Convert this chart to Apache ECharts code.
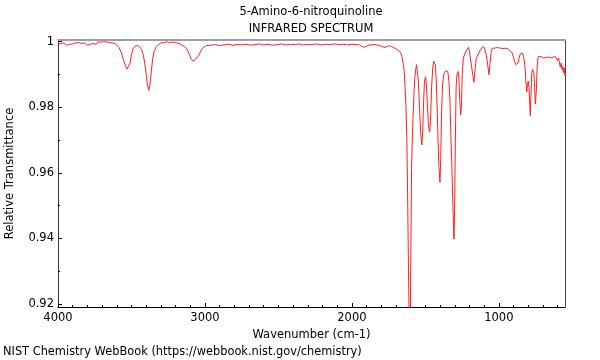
<!DOCTYPE html>
<html>
<head>
<meta charset="utf-8">
<script src="https://cdn.jsdelivr.net/npm/echarts@6/dist/echarts.min.js"></script>
<style>html,body{margin:0;padding:0;background:#fff;}#c{width:600px;height:360px;}</style>
</head>
<body>
<div id="c"></div>
<script>
const titleText = '5-Amino-6-nitroquinoline';
const subtitleText = 'INFRARED SPECTRUM';
const xName = 'Wavenumber (cm-1)';
const yName = 'Relative Transmittance';
const footer = 'NIST Chemistry WebBook (https://webbook.nist.gov/chemistry)';
const xMajorTicks = [4000, 3000, 2000, 1000];
const yMajorTicks = [0.92, 0.94, 0.96, 0.98, 1];
const yMinorTicks = [0.93, 0.95, 0.97, 0.99];
const xRange = [550, 4000];
const yRange = [0.9191, 1.0005];

const wavenumber = [
4000,3990,3980,3970,3960,3950,3940,3930,3920,3910,3900,3890,3880,3870,3860,3850,3840,3830,3820,3810,
3800,3790,3780,3770,3760,3750,3740,3730,3720,3710,3700,3690,3680,3670,3660,3650,3640,3630,3620,3610,
3600,3585,3570,3555,3540,3530,3520,3510,3500,3490,3475,3460,3445,3430,3420,3410,3400,3390,3382,3375,
3365,3355,3345,3330,3315,3300,3280,3260,3240,3220,3200,3185,3170,3155,3140,3120,3105,3095,3085,3078,
3070,3060,3052,3045,3035,3020,3005,2990,2960,2930,2900,2870,2840,2810,2780,2750,2720,2690,2660,2630,
2600,2570,2540,2510,2480,2450,2420,2390,2360,2330,2300,2270,2240,2210,2180,2150,2120,2090,2060,2030,
2000,1970,1950,1935,1920,1905,1890,1870,1850,1830,1810,1790,1775,1760,1745,1730,1715,1700,1685,1670,
1660,1650,1644,1638,1632,1626,1620,1615,1610,1607,1603,1599,1594,1588,1583,1577,1572,1566,1560,1555,
1548,1540,1532,1524,1518,1512,1506,1499,1493,1486,1478,1471,1465,1458,1450,1443,1438,1432,1426,1420,
1414,1408,1401,1396,1390,1383,1375,1365,1355,1348,1340,1333,1327,1320,1314,1308,1305,1301,1296,1291,
1285,1278,1272,1266,1260,1255,1249,1242,1236,1230,1224,1218,1212,1206,1200,1194,1186,1178,1170,1163,
1155,1148,1140,1133,1126,1120,1113,1106,1100,1094,1088,1082,1075,1067,1060,1052,1045,1038,1030,1022,
1015,1008,1000,993,986,979,972,965,958,950,942,934,926,918,910,900,892,885,878,870,
862,855,848,840,832,825,820,815,810,805,800,795,790,786,782,777,772,767,762,757,
752,749,745,740,735,728,720,712,704,696,688,680,672,664,656,648,640,632,624,616,
608,600,594,588,582,576,570,565,560,555,550
];
const transmittance = [
0.9993,0.9988,0.9994,0.9990,0.9996,0.9991,0.9989,0.9995,0.9992,0.9987,0.9993,0.9990,0.9996,0.9992,0.9997,0.9991,0.9994,0.9990,0.9996,0.9993,
0.9989,0.9995,0.9992,0.9998,0.9994,0.9997,0.9992,0.9999,0.9995,0.9998,0.9993,1.0000,0.9996,0.9999,0.9994,0.9997,0.9993,0.9996,0.9992,0.9994,
0.9990,0.9982,0.9968,0.9945,0.9925,0.9916,0.9918,0.9935,0.9960,0.9978,0.9986,0.9988,0.9985,0.9975,0.9960,0.9935,0.9900,0.9865,0.9852,0.9865,
0.9910,0.9950,0.9972,0.9985,0.9991,0.9996,0.9997,1.0000,0.9996,0.9999,0.9997,0.9995,0.9993,0.9989,0.9985,0.9975,0.9960,0.9948,0.9942,0.9940,
0.9945,0.9950,0.9951,0.9955,0.9965,0.9978,0.9985,0.9988,0.9989,0.9991,0.9988,0.9990,0.9992,0.9989,0.9991,0.9990,0.9992,0.9989,0.9991,0.9993,
0.9990,0.9992,0.9989,0.9991,0.9993,0.9990,0.9992,0.9991,0.9993,0.9990,0.9992,0.9991,0.9993,0.9990,0.9992,0.9991,0.9993,0.9991,0.9992,0.9990,
0.9992,0.9991,0.9990,0.9986,0.9983,0.9985,0.9989,0.9990,0.9991,0.9990,0.9988,0.9984,0.9982,0.9986,0.9987,0.9985,0.9982,0.9978,0.9973,0.9968,
0.9955,0.9930,0.9910,0.9860,0.9800,0.9700,0.9500,0.9300,0.9150,0.9100,0.9150,0.9350,0.9610,0.9720,0.9780,0.9850,0.9890,0.9915,0.9930,0.9925,
0.9880,0.9800,0.9720,0.9685,0.9730,0.9820,0.9880,0.9893,0.9870,0.9800,0.9740,0.9724,0.9760,0.9860,0.9920,0.9940,0.9944,0.9930,0.9880,0.9800,
0.9700,0.9620,0.9571,0.9640,0.9780,0.9870,0.9900,0.9910,0.9916,0.9910,0.9880,0.9820,0.9720,0.9620,0.9520,0.9420,0.9398,0.9500,0.9700,0.9860,
0.9900,0.9909,0.9890,0.9820,0.9776,0.9800,0.9900,0.9950,0.9955,0.9965,0.9960,0.9975,0.9978,0.9983,0.9968,0.9950,0.9925,0.9900,0.9876,0.9910,
0.9945,0.9955,0.9962,0.9968,0.9975,0.9971,0.9980,0.9985,0.9988,0.9975,0.9962,0.9950,0.9925,0.9899,0.9935,0.9970,0.9980,0.9983,0.9980,0.9985,
0.9982,0.9986,0.9981,0.9984,0.9980,0.9983,0.9979,0.9982,0.9980,0.9977,0.9979,0.9975,0.9973,0.9970,0.9966,0.9952,0.9938,0.9930,0.9926,0.9935,
0.9950,0.9962,0.9968,0.9965,0.9955,0.9935,0.9910,0.9870,0.9847,0.9870,0.9880,0.9860,0.9810,0.9774,0.9830,0.9900,0.9915,0.9912,0.9905,0.9860,
0.9810,0.9805,0.9850,0.9920,0.9947,0.9955,0.9958,0.9954,0.9957,0.9950,0.9955,0.9952,0.9958,0.9953,0.9956,0.9950,0.9955,0.9952,0.9948,0.9955,
0.9950,0.9942,0.9950,0.9935,0.9922,0.9935,0.9915,0.9925,0.9905,0.9920,0.9895
];

const xMinorTicks = [];
for (let t = 600; t < 4000; t += 100) { if (t % 1000 !== 0) xMinorTicks.push(t); }

const points = wavenumber.map((w, i) => [w, transmittance[i]]);
const FONT = 'DejaVu Sans';
const FS = 11.5;
const chart = echarts.init(document.getElementById('c'), null, {renderer: 'canvas'});
const baseX = {type: 'value', min: xRange[0], max: xRange[1], inverse: true, splitLine: {show: false}};
const baseY = {type: 'value', min: yRange[0], max: yRange[1], splitLine: {show: false}};
chart.setOption({
  animation: false,
  backgroundColor: '#fff',
  title: [
    {text: titleText, left: 311, top: 6, padding: 0, textAlign: 'center', textStyle: {fontFamily: FONT, fontSize: FS, fontWeight: 'normal', color: '#000'}},
    {text: subtitleText, left: 311, top: 23, padding: 0, textAlign: 'center', textStyle: {fontFamily: FONT, fontSize: FS, fontWeight: 'normal', color: '#000'}},
    {text: footer, left: 3, top: 347, padding: 0, textStyle: {fontFamily: FONT, fontSize: 11.4, fontWeight: 'normal', color: '#000'}}
  ],
  grid: {left: 58, right: 35, top: 40, bottom: 53, containLabel: false, outerBoundsMode: 'none'},
  xAxis: [
    Object.assign({}, baseX, {
      position: 'bottom',
      name: xName, nameLocation: 'middle', nameGap: 20,
      nameTextStyle: {fontFamily: FONT, fontSize: FS, color: '#000'},
      axisLine: {show: true, onZero: false, lineStyle: {color: '#000', width: 1}},
      axisTick: {show: true, inside: true, length: 4, customValues: xMajorTicks, lineStyle: {color: '#000'}},
      axisLabel: {show: true, customValues: xMajorTicks, margin: 5, fontFamily: FONT, fontSize: FS, color: '#000',
        formatter: v => String(Math.round(v))}
    }),
    Object.assign({}, baseX, {
      position: 'bottom',
      axisLine: {show: false, onZero: false},
      axisTick: {show: true, inside: true, length: 2, customValues: xMinorTicks, lineStyle: {color: '#000'}},
      axisLabel: {show: false}
    }),
    Object.assign({}, baseX, {
      position: 'top',
      axisLine: {show: true, onZero: false, lineStyle: {color: '#a0a0a0', width: 2}},
      axisTick: {show: false}, axisLabel: {show: false}
    })
  ],
  yAxis: [
    Object.assign({}, baseY, {
      position: 'left',
      name: yName, nameLocation: 'middle', nameGap: 42,
      nameTextStyle: {fontFamily: FONT, fontSize: FS, color: '#000'},
      axisLine: {show: true, onZero: false, lineStyle: {color: '#333', width: 1}},
      axisTick: {show: true, inside: true, length: 4, customValues: yMajorTicks, lineStyle: {color: '#000'}},
      axisLabel: {show: true, customValues: yMajorTicks, margin: 4, fontFamily: FONT, fontSize: FS, color: '#000',
        formatter: v => String(+(+v).toFixed(2))}
    }),
    Object.assign({}, baseY, {
      position: 'left',
      axisLine: {show: false, onZero: false},
      axisTick: {show: true, inside: true, length: 2, customValues: yMinorTicks, lineStyle: {color: '#000'}},
      axisLabel: {show: false}
    }),
    Object.assign({}, baseY, {
      position: 'right',
      axisLine: {show: true, onZero: false, lineStyle: {color: '#444', width: 1}},
      axisTick: {show: false}, axisLabel: {show: false}
    })
  ],
  series: [{
    type: 'line', xAxisIndex: 0, yAxisIndex: 0, data: points,
    showSymbol: false, symbol: 'none', clip: true,
    lineStyle: {color: '#ff2020', width: 1}
  }]
});
</script>
</body>
</html>
